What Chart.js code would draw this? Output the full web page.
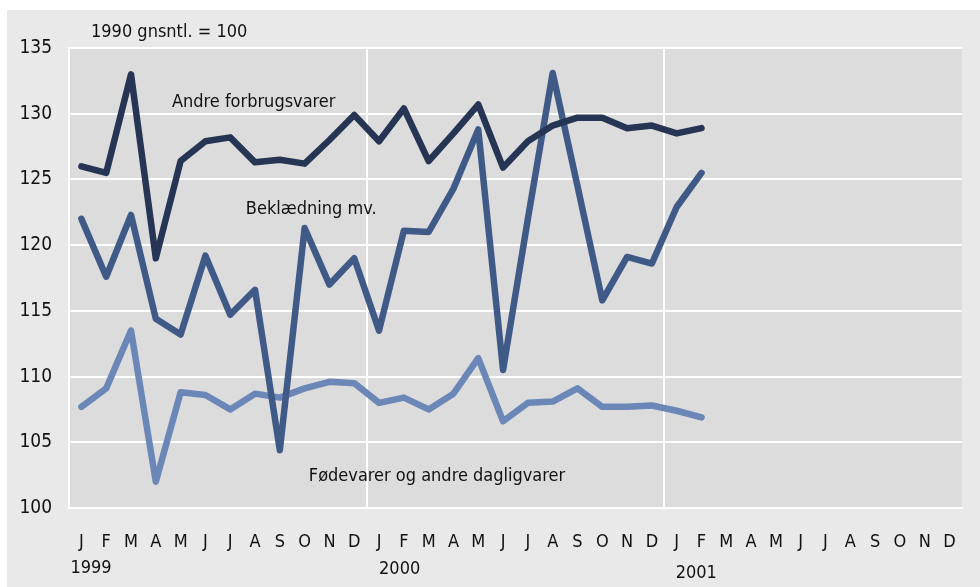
<!DOCTYPE html>
<html>
<head>
<meta charset="utf-8">
<script src="https://cdn.jsdelivr.net/npm/chart.js@4"></script>
<style>
  body { margin: 0; background: #fff; }
  #panel { position: absolute; left: 7px; top: 10px; width: 973px; height: 577px; background: #e9e9e9; }
  canvas { display: block; }
</style>
</head>
<body>
<div id="panel"><canvas id="chart" width="973" height="577"></canvas></div>
<script>
// Month ticks, Jan 1999 - Dec 2001
const months = ['J','F','M','A','M','J','J','A','S','O','N','D',
                'J','F','M','A','M','J','J','A','S','O','N','D',
                'J','F','M','A','M','J','J','A','S','O','N','D'];
const years = ['1999', '2000', '2001'];

// Index values (1990 average = 100)
const andre = [126.0, 125.5, 133.0, 119.0, 126.4, 127.9, 128.2, 126.3, 126.5, 126.2, 128.0, 129.9,
               127.9, 130.4, 126.4, 128.5, 130.7, 125.9, 127.9, 129.1, 129.7, 129.7, 128.9, 129.1,
               128.5, 128.9];
const beklaedning = [122.0, 117.6, 122.3, 114.4, 113.2, 119.2, 114.7, 116.6, 104.4, 121.3, 117.0, 119.0,
                     113.5, 121.1, 121.0, 124.3, 128.8, 110.5, 122.0, 133.1, 124.5, 115.8, 119.1, 118.6,
                     122.9, 125.5];
const foedevarer = [107.7, 109.1, 113.5, 102.0, 108.8, 108.6, 107.5, 108.7, 108.4, 109.1, 109.6, 109.5,
                    108.0, 108.4, 107.5, 108.7, 111.4, 106.6, 108.0, 108.1, 109.1, 107.7, 107.7, 107.8,
                    107.4, 106.9];

const FONT = "'DejaVu Sans Condensed', 'Liberation Sans', Arial, sans-serif";

// Series labels placed by (month index, value)
const seriesLabels = [
  { text: 'Andre forbrugsvarer', at: 3.65, value: 130.9 },
  { text: 'Beklædning mv.', at: 6.63, value: 122.7 },
  { text: 'Fødevarer og andre dagligvarer', at: 9.17, value: 102.4 }
];

const backdrop = {
  id: 'backdrop',
  beforeDraw(chart) {
    const { ctx, chartArea: a } = chart;
    ctx.save();
    ctx.fillStyle = '#dcdcdc';
    ctx.fillRect(a.left, a.top, a.right - a.left, a.bottom - a.top);
    ctx.restore();
  },
  afterDraw(chart) {
    const { ctx, chartArea: a, scales } = chart;
    const x = scales.x, y = scales.y;
    ctx.save();
    ctx.fillStyle = '#111';
    ctx.font = '18px ' + FONT;
    ctx.textBaseline = 'middle';
    ctx.textAlign = 'left';
    seriesLabels.forEach(l => {
      ctx.fillText(l.text, x.getPixelForValue(l.at), y.getPixelForValue(l.value));
    });
    ctx.fillText('1990 gnsntl. = 100', a.left + 22, a.top - 16);
    // year labels under January of each year
    const shift = [-11, 0, -1];
    const drop = [60, 61, 65];
    years.forEach((yr, i) => {
      ctx.fillText(yr, x.getPixelForValue(i * 12) + shift[i], a.bottom + drop[i]);
    });
    ctx.restore();
  }
};

new Chart(document.getElementById('chart'), {
  type: 'line',
  data: {
    labels: months,
    datasets: [
      { label: 'Andre forbrugsvarer', data: andre, borderColor: '#263553' },
      { label: 'Beklædning mv.', data: beklaedning, borderColor: '#405a88' },
      { label: 'Fødevarer og andre dagligvarer', data: foedevarer, borderColor: '#6a87b7' }
    ]
  },
  options: {
    responsive: false,
    animation: false,
    layout: { padding: { top: 38, right: 17, left: 0, bottom: 0 } },
    elements: {
      line: { borderWidth: 6.5, tension: 0, borderJoinStyle: 'round', borderCapStyle: 'round' },
      point: { radius: 0 }
    },
    plugins: { legend: { display: false }, tooltip: { enabled: false } },
    scales: {
      x: {
        offset: true,
        afterFit(s) { s.height = 79; },
        grid: {
          offset: true,
          drawTicks: false,
          lineWidth: 2,
          color: c => (c.index % 12 === 0 ? '#ffffff' : 'rgba(0,0,0,0)')
        },
        border: { display: true, color: '#ffffff', width: 2 },
        ticks: { color: '#111', font: { family: FONT, size: 18 }, padding: 24, autoSkip: false, maxRotation: 0 }
      },
      y: {
        min: 100,
        max: 135,
        afterFit(s) { s.width = 62; },
        grid: { color: '#ffffff', lineWidth: 2, drawTicks: false },
        border: { display: true, color: '#ffffff', width: 2 },
        ticks: { stepSize: 5, color: '#111', font: { family: FONT, size: 19 }, padding: 17 }
      }
    }
  },
  plugins: [backdrop]
});
</script>
</body>
</html>
